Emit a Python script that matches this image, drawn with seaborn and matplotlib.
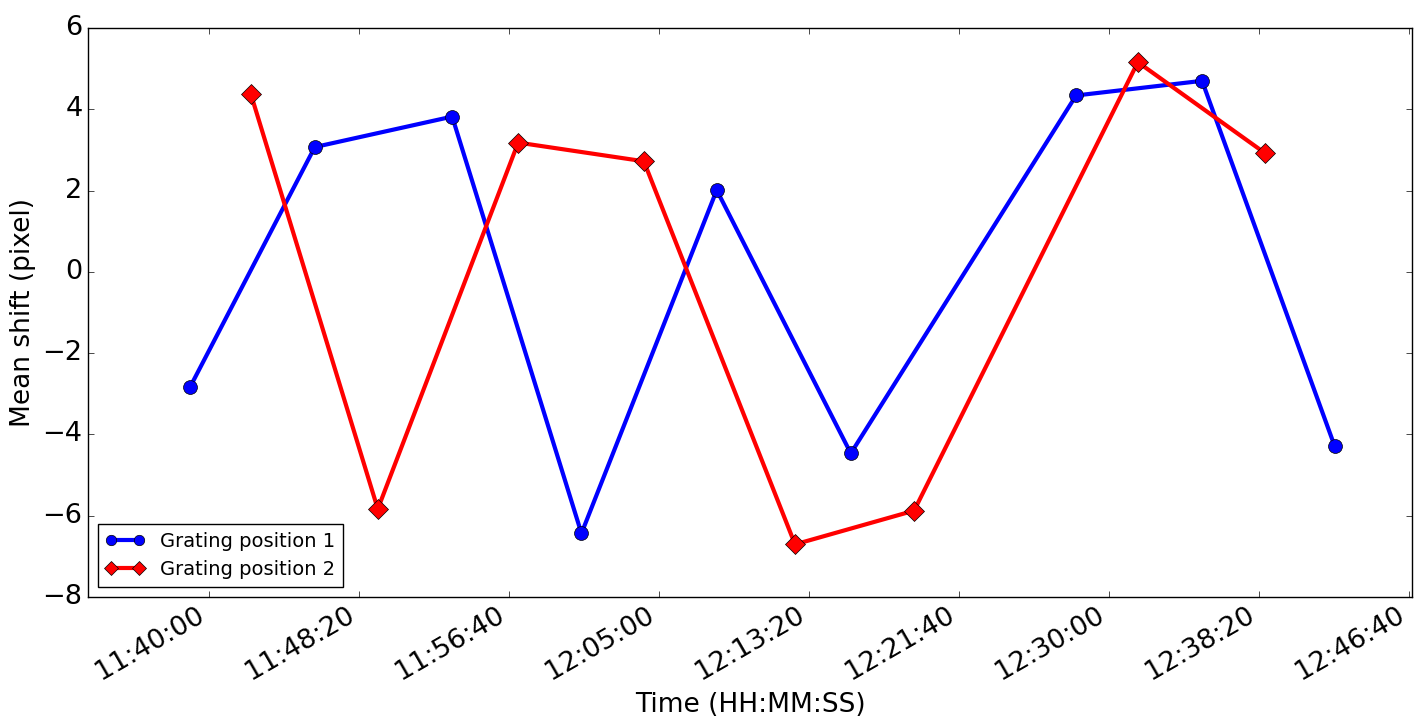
import pandas as pd
import numpy as np
import matplotlib
matplotlib.use("Agg")
import matplotlib.pyplot as plt
from matplotlib.ticker import MultipleLocator, FuncFormatter
import seaborn as sns

# Mean shift per exposure
times_pos1 = ["11:38:56", "11:45:52", "11:53:30", "12:00:41", "12:08:12",
              "12:15:39", "12:28:10", "12:35:10", "12:42:32"]
shift_pos1 = [-2.84, 3.07, 3.82, -6.44, 2.01, -4.47, 4.34, 4.70, -4.29]

times_pos2 = ["11:42:19", "11:49:22", "11:57:10", "12:04:09", "12:12:33",
              "12:19:10", "12:31:36", "12:38:40"]
shift_pos2 = [4.37, -5.84, 3.18, 2.72, -6.71, -5.88, 5.16, 2.92]

labels = ["Grating position 1", "Grating position 2"]


def to_seconds(t):
    h, m, s = (int(v) for v in t.split(":"))
    return h * 3600 + m * 60 + s


def hms(x, pos=None):
    x = int(round(x))
    return f"{x // 3600:02d}:{(x % 3600) // 60:02d}:{x % 60:02d}"


df1 = pd.DataFrame({"t": [to_seconds(t) for t in times_pos1], "shift": shift_pos1})
df2 = pd.DataFrame({"t": [to_seconds(t) for t in times_pos2], "shift": shift_pos2})

plt.style.use("classic")
plt.rcParams["font.family"] = ["DejaVu Sans"]

fig = plt.figure(figsize=(14.27, 7.19), dpi=100, facecolor="white")
ax = fig.add_axes([0.0617, 0.170, 0.9278, 0.791])

sns.lineplot(data=df1, x="t", y="shift", ax=ax, color="blue", lw=3,
             marker="o", markersize=10, markeredgecolor="black",
             markeredgewidth=0.5, label=labels[0])
sns.lineplot(data=df2, x="t", y="shift", ax=ax, color="red", lw=3,
             marker="D", markersize=10, markeredgecolor="black",
             markeredgewidth=0.5, label=labels[1])

ax.set_xlim(to_seconds("11:33:16"), to_seconds("12:46:50"))
ax.set_ylim(-8, 6)
ax.xaxis.set_major_locator(MultipleLocator(500))
ax.xaxis.set_major_formatter(FuncFormatter(hms))
ax.yaxis.set_major_locator(MultipleLocator(2))

ax.tick_params(labelsize=19.5)
for lbl in ax.get_xticklabels():
    lbl.set_rotation(30)
    lbl.set_ha("right")

ax.set_xlabel("Time (HH:MM:SS)", fontsize=19)
ax.set_ylabel("Mean shift (pixel)", fontsize=19)

ax.legend(loc="lower left", fontsize=14, numpoints=2, markerscale=0.75)

fig.savefig("out.png", dpi=100, facecolor="white")
